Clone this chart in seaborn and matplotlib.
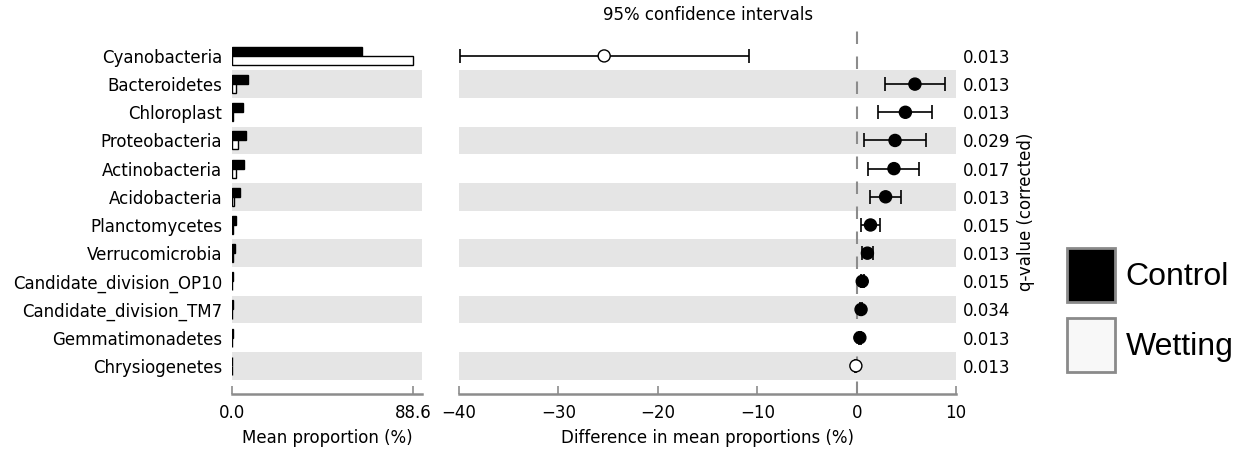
import matplotlib
matplotlib.use('Agg')
import matplotlib.pyplot as plt
import numpy as np
import pandas as pd
import seaborn as sns
from matplotlib.patches import Patch

# ------------------------  data ------------------------------------------------------
phyla = ['Cyanobacteria', 'Bacteroidetes', 'Chloroplast', 'Proteobacteria',
         'Actinobacteria', 'Acidobacteria', 'Planctomycetes', 'Verrucomicrobia',
         'Candidate_division_OP10', 'Candidate_division_TM7', 'Gemmatimonadetes',
         'Chrysiogenetes']
control_mean = [63.6, 8.0, 5.2, 7.0, 5.8, 4.1, 2.1, 1.4, 0.7, 0.45, 0.3, 0.02]
wetting_mean = [88.6, 1.7, 0.4, 3.1, 1.9, 1.0, 0.6, 0.4, 0.15, 0.05, 0.03, 0.1]
diff_mean = [-25.4, 5.86, 4.90, 3.86, 3.75, 2.91, 1.39, 1.08, 0.56, 0.44, 0.32, -0.08]
ci_low = [-39.9, 2.83, 2.15, 0.72, 1.16, 1.35, 0.48, 0.50, 0.40, 0.30, 0.22, -0.14]
ci_high = [-10.8, 8.92, 7.61, 6.93, 6.29, 4.42, 2.39, 1.67, 0.72, 0.58, 0.42, -0.02]
q_values = ['0.013', '0.013', '0.013', '0.029', '0.017', '0.013',
            '0.015', '0.013', '0.015', '0.034', '0.013', '0.013']
groups = ['Control', 'Wetting']

sns.set_style('white')
plt.rcParams['font.family'] = ['DejaVu Sans']
plt.rcParams['font.size'] = 12
for k in ['text.color', 'axes.labelcolor', 'xtick.labelcolor', 'ytick.labelcolor']:
    plt.rcParams[k] = 'black'

fig = plt.figure(figsize=(12.37, 4.5), dpi=100)
ax_l = fig.add_axes([0.1876, 0.1244, 0.1536, 0.8089])
ax_r = fig.add_axes([0.3711, 0.1244, 0.4018, 0.8089])

n = len(phyla)
pos = np.arange(n)
band_color = '#e5e5e5'
spine_gray = '#8c8c8c'

# ------------------------  left panel: mean proportions ----------------------------------
bars = pd.DataFrame({
    'phylum': phyla * 2,
    'group': [groups[0]] * n + [groups[1]] * n,
    'value': control_mean + wetting_mean,
})
sns.barplot(data=bars, x='value', y='phylum', hue='group', order=phyla,
            hue_order=groups, palette={'Control': 'black', 'Wetting': 'white'},
            edgecolor='black', linewidth=1, width=0.64, errorbar=None,
            legend=False, ax=ax_l)

for ax in (ax_l, ax_r):
    for i in pos[1::2]:
        ax.axhspan(i - 0.49, i + 0.49, color=band_color, zorder=0, lw=0)
    ax.set_ylim(12.0, -0.92)
    for s in ['top', 'right', 'left']:
        ax.spines[s].set_visible(False)
    ax.spines['bottom'].set_color(spine_gray)
    ax.spines['bottom'].set_linewidth(1.8)
    ax.tick_params(axis='x', bottom=True, direction='in', length=6, width=1.2,
                   color=spine_gray, pad=7, labelsize=12)
    ax.tick_params(axis='y', length=0)

ax_l.set_xlim(0, 88.6 * 1.05)
ax_l.set_xticks([0, 88.6])
ax_l.set_xticklabels(['0.0', '88.6'])
ax_l.set_ylabel('')
ax_l.set_xlabel('Mean proportion (%)', fontsize=12, labelpad=5.5)
ax_l.tick_params(axis='y', pad=7, labelsize=12)

# ------------------------  right panel: differences with CI ----------------------------------
ax_r.axvline(0, color=spine_gray, lw=1.5, ls=(0, (6, 6)), zorder=1)
d = np.array(diff_mean)
ax_r.errorbar(d, pos, xerr=[d - np.array(ci_low), np.array(ci_high) - d],
              fmt='none', ecolor='black', elinewidth=1.2, capsize=4.7,
              capthick=1.2, zorder=2)
pts = pd.DataFrame({'diff': diff_mean, 'row': pos,
                    'side': [groups[0] if v > 0 else groups[1] for v in diff_mean]})
sns.scatterplot(data=pts, x='diff', y='row', hue='side',
                palette={'Control': 'black', 'Wetting': 'white'},
                s=75, edgecolor='black', linewidth=1, legend=False,
                zorder=3, ax=ax_r)
ax_r.set_xlim(-40, 10)
ax_r.set_xticks([-40, -30, -20, -10, 0, 10])
ax_r.set_yticks([])
ax_r.set_ylabel('')
ax_r.set_xlabel('Difference in mean proportions (%)', fontsize=12, labelpad=5.5)
ax_r.set_title('95% confidence intervals', fontsize=12, pad=7.5)

ax_q = ax_r.twinx()
ax_q.set_ylim(12.0, -0.92)
ax_q.set_yticks(pos)
ax_q.set_yticklabels(q_values)
ax_q.tick_params(axis='y', length=0, pad=5, labelsize=12)
for s in ax_q.spines.values():
    s.set_visible(False)
ax_q.set_ylabel('q-value (corrected)', fontsize=12, labelpad=5)

# ------------------------  legend ----------------------------------
handles = [Patch(facecolor='black', edgecolor='#8a8a8a', linewidth=2),
           Patch(facecolor='#f8f8f8', edgecolor='#8a8a8a', linewidth=2)]
fig.legend(handles, groups, loc='center left',
           bbox_to_anchor=(1067 / 1237, 1 - 310 / 450), frameon=False,
           prop={'family': 'Liberation Sans', 'size': 23},
           handlelength=1.5, handleheight=2.18, handletextpad=0.34,
           labelspacing=0.53, borderpad=0, borderaxespad=0)

fig.savefig('out.png', dpi=100)
